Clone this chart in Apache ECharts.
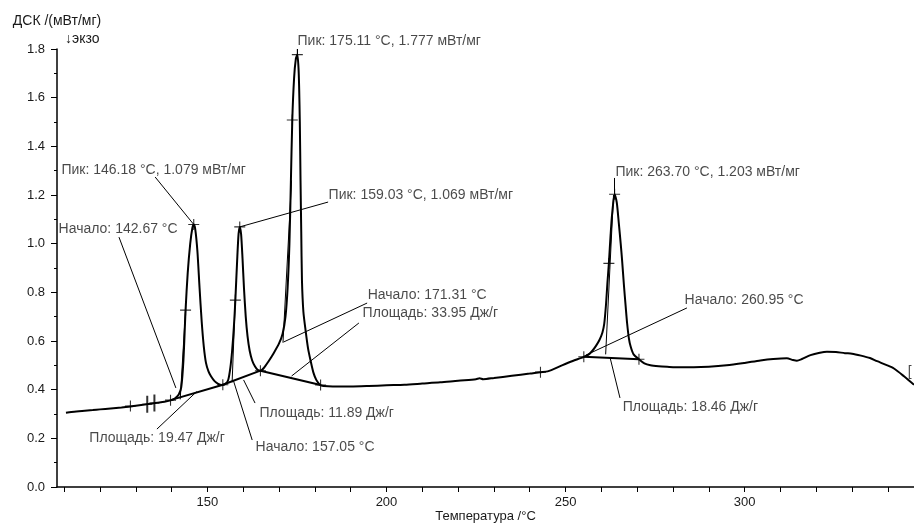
<!DOCTYPE html>
<html>
<head>
<meta charset="utf-8">
<script src="https://cdn.jsdelivr.net/npm/echarts@6.0.0/dist/echarts.min.js"></script>
<style>
  html, body { margin: 0; padding: 0; background: #fff; }
  #chart { width: 914px; height: 523px; }
</style>
</head>
<body>
<div id="chart"></div>
<script>
// кривая ДСК (температура, °C / сигнал, мВт/мг)
var tempC = [110.5, 112, 115, 118, 120, 123, 126, 128, 130, 132, 134, 136, 138, 140, 141, 142, 142.7, 143.3, 143.9, 144.5, 145.2, 145.8, 146.18, 146.6, 147.2, 147.8, 148.4, 149.0, 149.6, 150.3, 151, 152, 153, 154,
  155, 155.8, 156.4, 156.9, 157.4, 157.8, 158.3, 158.7, 159.03, 159.4, 159.8, 160.2, 160.7, 161.2, 161.8, 162.5, 163.3, 164.0, 164.8,
  165.8, 167, 168.5, 170, 171, 171.8, 172.4, 172.9, 173.3, 173.7, 174.2, 174.7, 175.11, 175.5, 175.8, 176.0, 176.2, 176.4, 176.8, 177.4, 178.1, 178.8, 179.6, 180.4, 181.1, 181.6,
  182.5, 185, 190, 195, 200, 205, 210, 215, 220, 225, 226, 227, 230, 235, 240, 243, 245, 249, 252, 255.1,
  256.5, 257.5, 258.5, 259.5, 260.3, 260.8, 261.3, 261.7, 262.1, 262.6, 263.0, 263.7, 264.3, 264.9, 265.4, 265.8, 266.3, 266.8, 267.2, 267.7, 268.2, 269, 270.5,
  272, 273.7, 276, 278.4, 282, 285.8, 290, 295, 300, 304.4, 308, 311.8, 313.5, 314.6, 316, 318.4, 321, 323, 325.5, 328, 330, 332.5, 335, 337, 339.5, 341.7, 344.5, 347.3]
var dscValue = [0.305, 0.308, 0.312, 0.316, 0.319, 0.323, 0.327, 0.330, 0.334, 0.338, 0.342, 0.346, 0.350, 0.357, 0.365, 0.380, 0.410, 0.520, 0.727, 0.880, 1.000, 1.065, 1.079, 1.060, 0.970, 0.820, 0.680, 0.576, 0.510, 0.475, 0.455, 0.435, 0.424, 0.419,
  0.423, 0.440, 0.490, 0.560, 0.660, 0.768, 0.930, 1.040, 1.069, 1.040, 0.940, 0.820, 0.700, 0.620, 0.560, 0.520, 0.495, 0.482, 0.478,
  0.490, 0.515, 0.550, 0.590, 0.630, 0.700, 0.820, 1.000, 1.250, 1.508, 1.680, 1.760, 1.777, 1.700, 1.500, 1.260, 1.050, 0.850, 0.720, 0.645, 0.570, 0.520, 0.470, 0.440, 0.425, 0.419,
  0.415, 0.413, 0.413, 0.415, 0.418, 0.420, 0.425, 0.430, 0.437, 0.443, 0.447, 0.443, 0.448, 0.457, 0.466, 0.472, 0.475, 0.500, 0.518, 0.535,
  0.545, 0.560, 0.580, 0.605, 0.635, 0.670, 0.750, 0.840, 0.919, 1.040, 1.120, 1.203, 1.170, 1.080, 1.000, 0.930, 0.830, 0.740, 0.672, 0.610, 0.576, 0.545, 0.525,
  0.508, 0.500, 0.496, 0.494, 0.492, 0.492, 0.494, 0.500, 0.510, 0.520, 0.526, 0.529, 0.522, 0.519, 0.526, 0.542, 0.552, 0.556, 0.555, 0.550, 0.548, 0.540, 0.530, 0.517, 0.502, 0.487, 0.455, 0.420]

// метки "+"
var markT = [128.5, 139.7, 143.9, 146.18, 154.3, 157.8, 159.03, 164.8, 173.7, 175.11, 181.6, 243, 255.1, 262.1, 263.7, 270.5]
var markV = [0.333, 0.357, 0.727, 1.079, 0.420, 0.768, 1.069, 0.478, 1.508, 1.777, 0.419, 0.472, 0.535, 0.919, 1.203, 0.525]
var tallT = [133.2, 135.2]
var tallV = [0.340, 0.345]

// базовые линии интегрирования
var baseLines = [
  [[139.7, 0.357], [154.1, 0.419]],
  [[154.1, 0.419], [164.8, 0.478]],
  [[164.8, 0.478], [181.6, 0.419]],
  [[255.1, 0.535], [270.5, 0.525]]
]
// касательные и выноски
var thinLines = [
  [[142.4, 0.36], [143.9, 0.73]],
  [[156.9, 0.43], [157.8, 0.77]],
  [[171.1, 0.593], [173.5, 1.26]],
  [[261.2, 0.545], [263.4, 1.20]],
  [[175.11, 1.80], [175.11, 1.777]],
  [[135.4, 1.274], [146.18, 1.079]],
  [[125.3, 1.027], [141.2, 0.407]],
  [[183.7, 1.171], [159.03, 1.069]],
  [[194.6, 0.756], [171.3, 0.596]],
  [[192.3, 0.674], [173.5, 0.456]],
  [[163.3, 0.345], [160.1, 0.440]],
  [[162.5, 0.193], [157.2, 0.440]],
  [[135.9, 0.238], [147.0, 0.392]],
  [[263.7, 1.27], [263.7, 1.203]],
  [[283.9, 0.736], [255.7, 0.542]],
  [[265.2, 0.366], [262.4, 0.534]]
]

// подписи
var annotText = ['Пик: 175.11 °C, 1.777 мВт/мг', 'Пик: 146.18 °C, 1.079 мВт/мг', 'Начало: 142.67 °C', 'Пик: 159.03 °C, 1.069 мВт/мг',
  'Начало: 171.31 °C', 'Площадь: 33.95 Дж/г', 'Площадь: 11.89 Дж/г', 'Начало: 157.05 °C', 'Площадь: 19.47 Дж/г',
  'Пик: 263.70 °C, 1.203 мВт/мг', 'Начало: 260.95 °C', 'Площадь: 18.46 Дж/г', '[']
var annotT = [175.02, 109.1, 108.3, 183.7, 194.6, 193.2, 164.4, 163.3, 116.9, 263.8, 283.1, 265.8, 345.4]
var annotV = [1.833, 1.303, 1.060, 1.200, 0.789, 0.715, 0.304, 0.164, 0.201, 1.295, 0.768, 0.329, 0.473]

var xTickValues = [110, 120, 130, 140, 150, 160, 170, 180, 190, 200, 210, 220, 230, 240, 250, 260, 270, 280, 290, 300, 310, 320, 330, 340]
var xLabelValues = [150, 200, 250, 300]

var font = 'Liberation Sans, Arial, sans-serif'
var myChart = echarts.init(document.getElementById('chart'))

var curve = tempC.map(function(t, i) { return [t, dscValue[i]] })
var toLines = function(arr) { return arr.map(function(c) { return { coords: c } }) }

myChart.setOption({
  animation: false,
  backgroundColor: '#fff',
  grid: { left: 57, right: 0, top: 49, bottom: 36, outerBoundsMode: 'none', containLabel: false },
  graphic: [{
    type: 'text', left: 65, top: 32,
    style: { text: '↓экзо', fontSize: 14, fontFamily: font, fill: '#1a1a1a' }
  }],
  xAxis: {
    type: 'value',
    min: 108,
    max: 347.3,
    name: 'Температура /°C',
    nameLocation: 'middle',
    nameGap: 23,
    nameMoveOverlap: false,
    nameTextStyle: { fontSize: 13, fontFamily: font, color: '#1a1a1a' },
    axisLine: { lineStyle: { color: '#000', width: 1.5 } },
    axisTick: { show: true, length: 5, customValues: xTickValues, lineStyle: { color: '#000' } },
    axisLabel: { customValues: xLabelValues, margin: 9, fontSize: 13, fontFamily: font, color: '#1a1a1a' },
    splitLine: { show: false }
  },
  yAxis: {
    type: 'value',
    min: 0,
    max: 1.8,
    interval: 0.2,
    name: 'ДСК /(мВт/мг)',
    nameLocation: 'end',
    nameGap: 21,
    nameTextStyle: { fontSize: 14, fontFamily: font, color: '#1a1a1a' },
    axisLine: { show: true, lineStyle: { color: '#000', width: 1.5 } },
    axisTick: { show: true, length: 6, lineStyle: { color: '#000' } },
    minorTick: { show: true, splitNumber: 2, length: 3, lineStyle: { color: '#000' } },
    axisLabel: {
      margin: 12, fontSize: 13, fontFamily: font, color: '#1a1a1a',
      formatter: function(v) { return v.toFixed(1) }
    },
    splitLine: { show: false }
  },
  series: [
    {
      name: 'ДСК',
      type: 'line',
      data: curve,
      symbol: 'none',
      smooth: 0.25,
      lineStyle: { color: '#000', width: 2 }
    },
    {
      type: 'lines',
      coordinateSystem: 'cartesian2d',
      data: toLines(baseLines),
      lineStyle: { color: '#000', width: 2, opacity: 1 }
    },
    {
      type: 'lines',
      coordinateSystem: 'cartesian2d',
      data: toLines(thinLines),
      lineStyle: { color: '#000', width: 1, opacity: 1 }
    },
    {
      type: 'scatter',
      data: markT.map(function(t, i) { return [t, markV[i]] }),
      symbol: 'path://M0,4.5L10,4.5L10,5.5L0,5.5Z M4.5,0L5.5,0L5.5,10L4.5,10Z',
      symbolSize: [11, 11],
      itemStyle: { color: '#000' },
      clip: false
    },
    {
      type: 'scatter',
      data: tallT.map(function(t, i) { return [t, tallV[i]] }),
      symbol: 'path://M0,7.5L10,7.5L10,8.5L0,8.5Z M4,0L6,0L6,16L4,16Z',
      symbolSize: [10, 17],
      itemStyle: { color: '#000' },
      clip: false
    },
    {
      type: 'scatter',
      data: annotT.map(function(t, i) { return { name: annotText[i], value: [t, annotV[i]] } }),
      symbolSize: 1,
      itemStyle: { color: 'rgba(0,0,0,0)' },
      clip: false,
      label: {
        show: true,
        position: 'right',
        distance: 0,
        formatter: '{b}',
        fontSize: 14,
        fontFamily: font,
        color: '#1a1a1a'
      }
    }
  ]
})
window.addEventListener('resize', function() {
  myChart.resize()
})
</script>
</body>
</html>
